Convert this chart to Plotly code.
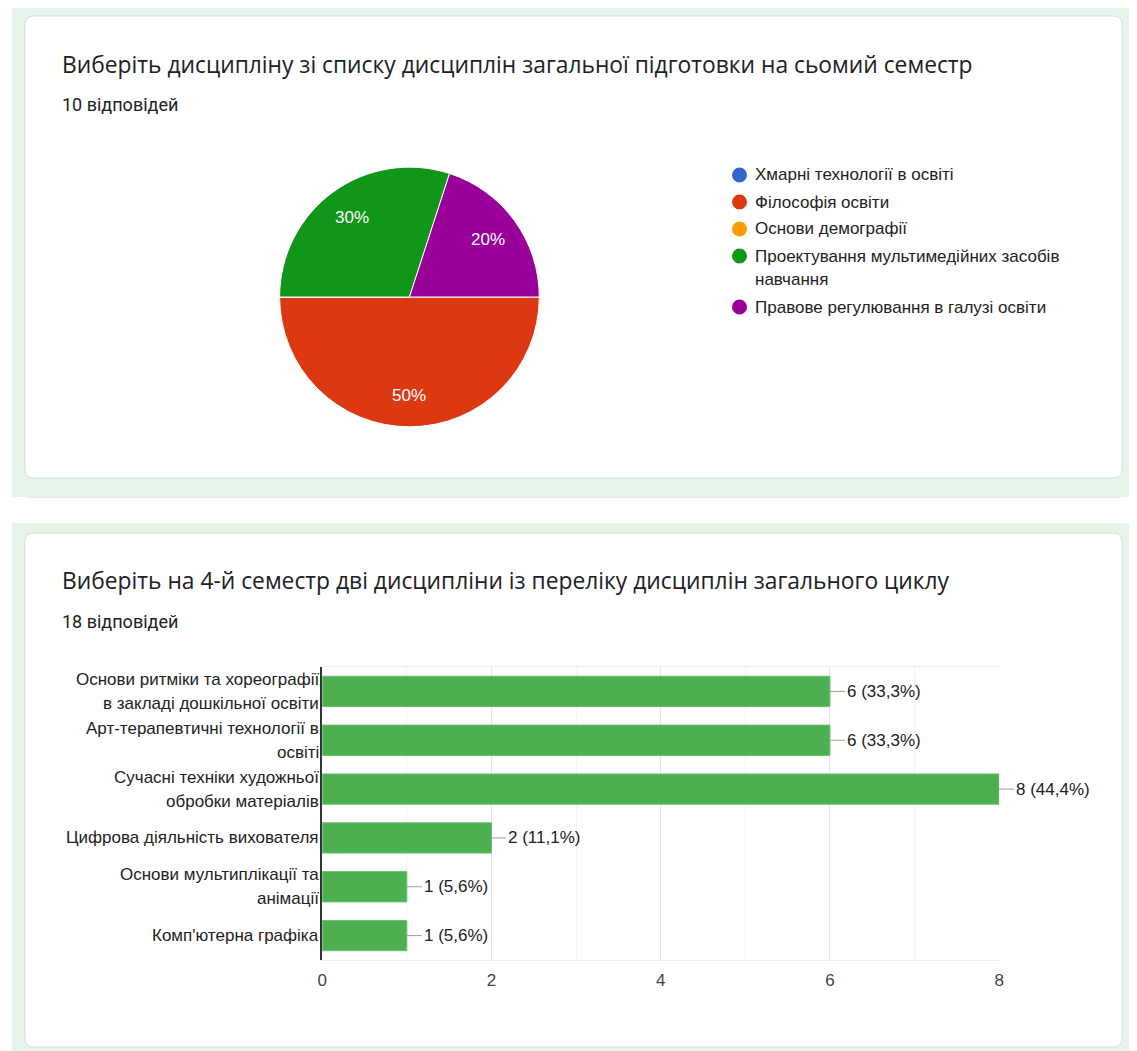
import math
import textwrap
import plotly.graph_objects as go

W, H = 1137, 1051
OFF = 8  # page body margin in the browser
FW, FH = W - OFF, H - OFF

# ---------------- data ----------------
pie_title = "Виберіть дисципліну зі списку дисциплін загальної підготовки на сьомий семестр"
pie_responses_text = "10 відповідей"
pie_labels = [
    "Хмарні технології в освіті",
    "Філософія освіти",
    "Основи демографії",
    "Проектування мультимедійних засобів навчання",
    "Правове регулювання в галузі освіти",
]
pie_counts = [0, 5, 0, 3, 2]
pie_colors = ["#3366cc", "#dc3912", "#ff9900", "#109618", "#990099"]

bar_title = "Виберіть на 4-й семестр дві дисципліни із переліку дисциплін загального циклу"
bar_responses_text = "18 відповідей"
bar_total = 18
bar_categories = [
    "Основи ритміки та хореографії в закладі дошкільної освіти",
    "Арт-терапевтичні технології в освіті",
    "Сучасні техніки художньої обробки матеріалів",
    "Цифрова діяльність вихователя",
    "Основи мультиплікації та анімації",
    "Комп'ютерна графіка",
]
bar_counts = [6, 6, 8, 2, 1, 1]
x_tick_values = [0, 2, 4, 6, 8]

# ---------------- helpers ----------------
def px(x):
    return (x - OFF) / FW


def py(y):
    return 1 - (y - OFF) / FH


def rrect(x0, y0, x1, y1, r):
    rx, ry = r / FW, r / FH
    X0, X1 = px(x0), px(x1)
    T, B = py(y0), py(y1)
    return (f"M{X0+rx},{T} L{X1-rx},{T} Q{X1},{T} {X1},{T-ry} "
            f"L{X1},{B+ry} Q{X1},{B} {X1-rx},{B} L{X0+rx},{B} "
            f"Q{X0},{B} {X0},{B+ry} L{X0},{T-ry} Q{X0},{T} {X0+rx},{T} Z")


GREEN_BG = "#e6f4ea"
CARD_LINE = "#dadce0"
TITLE_FONT = "Open Sans"
BODY_FONT = "Liberation Sans"
TXT = "#222222"
FS = 17

shapes = []
# background bands
shapes.append(dict(type="rect", xref="paper", yref="paper", x0=px(7), x1=1.01, y0=py(497), y1=1.01,
                   fillcolor=GREEN_BG, line=dict(width=0), layer="below"))
shapes.append(dict(type="rect", xref="paper", yref="paper", x0=px(7), x1=1.01, y0=-0.01, y1=py(523),
                   fillcolor=GREEN_BG, line=dict(width=0), layer="below"))
# faint edge of the card between the two sections
shapes.append(dict(type="line", xref="paper", yref="paper", x0=px(22), x1=px(1125), y0=py(497.5), y1=py(497.5),
                   line=dict(color="#e6e6e6", width=1), layer="below"))
# cards
shapes.append(dict(type="path", xref="paper", yref="paper", path=rrect(20, 16, 1127, 478, 9),
                   fillcolor="white", line=dict(color=CARD_LINE, width=1), layer="below"))
shapes.append(dict(type="path", xref="paper", yref="paper", path=rrect(20, 533, 1127, 1047, 9),
                   fillcolor="white", line=dict(color=CARD_LINE, width=1), layer="below"))

annotations = []
# titles
for txt, yc in [(pie_title, 64), (bar_title, 580)]:
    annotations.append(dict(text=txt, xref="paper", yref="paper", x=px(55), y=py(yc),
                            xanchor="left", yanchor="middle", showarrow=False,
                            font=dict(family=TITLE_FONT, size=22.8, color="#202124")))
for txt, yc in [(pie_responses_text, 104), (bar_responses_text, 621)]:
    annotations.append(dict(text=txt, xref="paper", yref="paper", x=px(55), y=py(yc),
                            xanchor="left", yanchor="middle", showarrow=False,
                            font=dict(family="Roboto", size=18, color="#202124")))

# pie slice labels (percent of responses, placed at 3/4 radius on slice mid-angle)
PIE_L, PIE_R, PIE_T, PIE_B = 277, 539, 166, 428
pcx, pcy = (PIE_L + PIE_R) / 2, (PIE_T + PIE_B) / 2
prad = (PIE_R - PIE_L) / 2
pie_total = sum(pie_counts)
start_deg = 90.0
cum = 0.0
for lab, v in zip(pie_labels, pie_counts):
    if v > 0:
        mid = start_deg + (cum + v / 2) / pie_total * 360
        rr = 0.75 * prad
        tx = pcx + rr * math.sin(math.radians(mid))
        ty = pcy - rr * math.cos(math.radians(mid))
        annotations.append(dict(text=f"{round(v / pie_total * 100)}%", xref="paper", yref="paper",
                                x=px(tx), y=py(ty), xanchor="center", yanchor="middle", showarrow=False,
                                font=dict(family=BODY_FONT, size=FS, color="white")))
    cum += v

# pie legend (custom, circle markers)
yrow = 175
for lab, col in zip(pie_labels, pie_colors):
    lines = textwrap.wrap(lab, 36)
    shapes.append(dict(type="circle", xref="paper", yref="paper", xsizemode="pixel", ysizemode="pixel",
                       xanchor=px(741), yanchor=py(yrow), x0=-7.5, x1=7.5, y0=-7.5, y1=7.5,
                       fillcolor=col, line=dict(width=0)))
    for j, ln in enumerate(lines):
        annotations.append(dict(text=ln, xref="paper", yref="paper", x=px(755), y=py(yrow + 24 * j),
                                xanchor="left", yanchor="middle", showarrow=False,
                                font=dict(family=BODY_FONT, size=FS, color=TXT)))
    yrow += 27 + 24 * (len(lines) - 1)

# bar category labels
LH = 24
for cat in bar_categories:
    lines = textwrap.wrap(cat, 29, break_on_hyphens=False)
    n = len(lines)
    for i, ln in enumerate(lines):
        annotations.append(dict(text=ln, xref="x", yref="y", x=0, y=cat, xanchor="right",
                                yanchor="middle", xshift=-1, yshift=(n - 1) / 2 * LH - i * LH,
                                showarrow=False,
                                font=dict(family=BODY_FONT, size=FS, color=TXT)))

# bar value labels with leader lines
for cat, v in zip(bar_categories, bar_counts):
    pct = f"{v / bar_total * 100:.1f}".replace(".", ",")
    annotations.append(dict(text=f"{v} ({pct}%)", xref="x", yref="y", x=v, y=cat,
                            showarrow=True, arrowhead=0, arrowwidth=1, arrowcolor="#9e9e9e",
                            ax=15, ay=0, xanchor="left", yanchor="middle",
                            font=dict(family=BODY_FONT, size=FS, color=TXT)))

fig = go.Figure()
fig.add_trace(go.Pie(
    labels=pie_labels, values=pie_counts, sort=False, direction="clockwise", rotation=90,
    marker=dict(colors=pie_colors, line=dict(color="white", width=1)),
    textinfo="none",
    domain=dict(x=[px(PIE_L), px(PIE_R)], y=[py(PIE_B), py(PIE_T)]),
    showlegend=False,
))
fig.add_trace(go.Bar(
    x=bar_counts, y=bar_categories, orientation="h", width=0.62,
    marker=dict(color="#4caf50", line=dict(color="#6cc070", width=1)),
    showlegend=False, xaxis="x", yaxis="y",
))

fig.update_layout(
    width=FW, height=FH, margin=dict(l=0, r=0, t=0, b=0),
    paper_bgcolor="white", plot_bgcolor="rgba(0,0,0,0)",
    shapes=shapes, annotations=annotations,
    xaxis=dict(domain=[px(320), px(1003)], range=[0, 8], tickvals=x_tick_values,
               showgrid=True, gridcolor="#e4e4e4", gridwidth=1,
               minor=dict(dtick=1, tick0=0, showgrid=True, gridcolor="#f4f4f4"),
               showline=True, linecolor="#ececec", mirror=True, zeroline=False,
               ticks="", ticklabelstandoff=5,
               tickfont=dict(family=BODY_FONT, size=FS, color="#444444"), anchor="y", fixedrange=True),
    yaxis=dict(domain=[py(960), py(667)], categoryorder="array", categoryarray=bar_categories,
               autorange="reversed", showticklabels=False, showgrid=False,
               showline=True, linecolor="#333333", linewidth=1.5, zeroline=False,
               anchor="x", fixedrange=True),
)

fig.write_html("out.html")
